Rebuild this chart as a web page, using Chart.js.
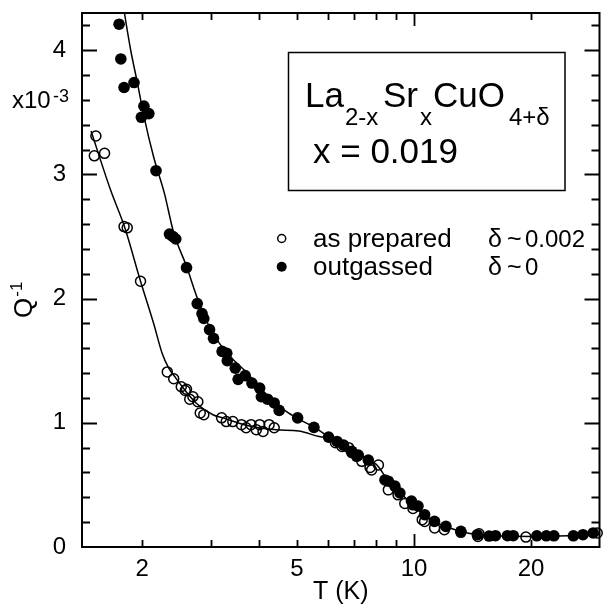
<!DOCTYPE html>
<html>
<head>
<meta charset="utf-8">
<script src="https://cdn.jsdelivr.net/npm/chart.js@4.4.1/dist/chart.umd.min.js"></script>
<style>
  body { margin: 0; background: #fff; }
  canvas { display: block; }
</style>
</head>
<body>
<canvas id="qChart" width="606" height="607"></canvas>
<script>
// values: T in K, Q^-1 in units of 1e-3

// outgassed (filled circles)
const outgassedT = [1.744, 1.762, 1.796, 1.905, 1.99, 2.02, 2.08, 2.17, 2.35, 2.40, 2.44, 2.60,
  2.77, 2.85, 2.88, 2.98, 3.05, 3.21, 3.30, 3.31, 3.47, 3.53, 3.68, 3.83, 4.01, 4.05, 4.20, 4.37,
  4.50, 5.02, 5.53, 6.03, 6.34, 6.59, 6.92, 7.12, 7.19, 7.63, 8.42, 8.59, 8.93, 9.20, 9.85, 9.94,
  10.24, 10.65, 11.29, 12.08, 13.20, 14.55, 15.6, 16.2, 17.4, 18.0, 20.7, 21.9, 22.9, 25.7, 27.2, 28.9];
const outgassedQ = [4.21, 3.93, 3.70, 3.74, 3.46, 3.55, 3.49, 3.03, 2.52, 2.50, 2.48, 2.25,
  1.96, 1.88, 1.84, 1.75, 1.68, 1.575, 1.56, 1.50, 1.44, 1.35, 1.38, 1.32, 1.28, 1.21, 1.19, 1.16,
  1.10, 1.04, 0.963, 0.885, 0.85, 0.82, 0.77, 0.73, 0.74, 0.70, 0.54, 0.53, 0.49, 0.435, 0.37, 0.34,
  0.33, 0.26, 0.206, 0.166, 0.126, 0.099, 0.088, 0.091, 0.091, 0.091, 0.09, 0.09, 0.09, 0.09, 0.099, 0.113];

// as prepared (open circles)
const preparedT = [1.506, 1.52, 1.60, 1.796, 1.83, 1.98, 2.32, 2.41, 2.52, 2.58, 2.60, 2.65, 2.70,
  2.78, 2.82, 2.88, 3.20, 3.29, 3.42, 3.60, 3.70, 3.81, 3.93, 4.01, 4.09, 4.24, 4.37, 6.28, 6.53,
  6.79, 6.92, 7.34, 7.71, 7.78, 8.1, 8.59, 9.1, 9.47, 9.94, 10.5, 10.65, 11.3, 11.97, 13.2, 14.6,
  14.7, 19.4, 29.6];
const preparedQ = [3.15, 3.31, 3.17, 2.58, 2.57, 2.14, 1.41, 1.355, 1.29, 1.26, 1.27, 1.19, 1.21,
  1.17, 1.08, 1.065, 1.04, 1.01, 1.01, 0.985, 0.96, 0.985, 0.945, 0.985, 0.93, 0.985, 0.96, 0.84, 0.81,
  0.80, 0.76, 0.69, 0.64, 0.62, 0.66, 0.46, 0.42, 0.35, 0.31, 0.22, 0.206, 0.153, 0.139, 0.118, 0.085,
  0.107, 0.08, 0.113];

// guide-to-the-eye curves
const outgassedFitT = [1.76, 1.80, 1.868, 1.943, 2.02, 2.14, 2.28, 2.41, 2.60, 2.76, 2.95, 3.16, 3.40,
  3.70, 4.0, 4.33, 4.7, 5.06, 5.6, 6.05, 6.5, 6.9, 7.6, 8.0, 8.6, 9.2, 9.9, 10.6, 11.3, 12.1, 13.2,
  14.6, 16, 20, 25, 30];
const outgassedFitQ = [4.5, 4.30, 4.0, 3.74, 3.47, 3.14, 2.85, 2.53, 2.26, 2.02, 1.80, 1.64, 1.52,
  1.41, 1.29, 1.18, 1.09, 1.03, 0.955, 0.885, 0.83, 0.775, 0.70, 0.665, 0.53, 0.44, 0.34, 0.26, 0.205,
  0.165, 0.125, 0.10, 0.09, 0.085, 0.09, 0.10];
const preparedFitT = [1.477, 1.66, 1.80, 1.98, 2.14, 2.25, 2.34, 2.44, 2.55, 2.75, 3.04, 3.23, 3.7,
  4.42, 5.05, 5.7, 6.05];
const preparedFitQ = [3.35, 2.87, 2.58, 2.14, 1.80, 1.56, 1.44, 1.36, 1.28, 1.16, 1.065, 1.04, 0.98,
  0.944, 0.935, 0.89, 0.88];

// axes
const xTickLabels = [2, 5, 10, 20];
const yTickLabels = [0, 1, 2, 3, 4];
const xMinorTicks = [2, 3, 4, 5, 6, 7, 8, 9, 20];
const xMajorTicks = [10];
const yMinorTicks = [0.2, 0.4, 0.6, 0.8, 1.2, 1.4, 1.6, 1.8, 2.2, 2.4, 2.6, 2.8, 3.2, 3.4, 3.6, 3.8, 4.2];
const yMajorTicks = [1, 2, 3, 4];

const FONT = "'Liberation Sans', Arial, sans-serif";
Chart.defaults.font.family = FONT;
Chart.defaults.color = '#000';

const toPoints = (xs, ys) => xs.map((x, i) => ({ x: x, y: ys[i] }));

// frame, inward ticks, and the text annotations
const overlay = {
  id: 'overlay',
  afterDraw(chart) {
    const { ctx, chartArea: a, scales: { x, y } } = chart;
    ctx.save();
    ctx.strokeStyle = '#000';
    ctx.fillStyle = '#000';

    ctx.lineWidth = 2;
    ctx.strokeRect(a.left, a.top, a.right - a.left, a.bottom - a.top);

    ctx.lineWidth = 1.8;
    ctx.beginPath();
    const xt = (v, len) => {
      const px = Math.round(x.getPixelForValue(v)) + 0.5;
      ctx.moveTo(px, a.bottom); ctx.lineTo(px, a.bottom - len);
      ctx.moveTo(px, a.top); ctx.lineTo(px, a.top + len);
    };
    const yt = (v, len) => {
      const py = Math.round(y.getPixelForValue(v)) + 0.5;
      ctx.moveTo(a.left, py); ctx.lineTo(a.left + len, py);
      ctx.moveTo(a.right, py); ctx.lineTo(a.right - len, py);
    };
    xMinorTicks.forEach(v => xt(v, 7));
    xMajorTicks.forEach(v => xt(v, 13));
    yMinorTicks.forEach(v => yt(v, 8));
    yMajorTicks.forEach(v => yt(v, 15));
    ctx.stroke();

    ctx.textBaseline = 'alphabetic';
    ctx.textAlign = 'left';

    // x10^-3 multiplier
    ctx.font = '24px ' + FONT;
    ctx.fillText('x10', 12, 108);
    ctx.font = '18px ' + FONT;
    ctx.fillText('-3', 53, 102);

    // Q^-1 axis title
    ctx.save();
    ctx.translate(32, 318);
    ctx.rotate(-Math.PI / 2);
    ctx.font = '26px ' + FONT;
    ctx.fillText('Q', 0, 0);
    const qw = ctx.measureText('Q').width;
    ctx.font = '17px ' + FONT;
    ctx.fillText('-1', qw + 1, -10);
    ctx.restore();

    // composition box
    ctx.lineWidth = 1.5;
    ctx.strokeRect(288.5, 52.5, 276.5, 138);
    const big = '35px ' + FONT;
    const small = '24px ' + FONT;
    ctx.font = big;   ctx.fillText('La', 305, 107);
    ctx.font = small; ctx.fillText('2-x', 345, 125);
    ctx.font = big;   ctx.fillText('Sr', 383, 107);
    ctx.font = small; ctx.fillText('x', 420, 125);
    ctx.font = big;   ctx.fillText('CuO', 433, 107);
    ctx.font = small; ctx.fillText('4+\u03b4', 509, 125);
    ctx.font = big;   ctx.fillText('x = 0.019', 313, 163);

    // legend
    ctx.lineWidth = 1.5;
    ctx.beginPath();
    ctx.arc(281.7, 238.5, 4, 0, Math.PI * 2);
    ctx.stroke();
    ctx.beginPath();
    ctx.arc(281.7, 266.7, 5, 0, Math.PI * 2);
    ctx.fill();
    ctx.font = '26px ' + FONT;
    ctx.fillText('as prepared', 313, 247);
    ctx.fillText('outgassed', 313, 275);
    ctx.font = '25px ' + FONT;
    ctx.fillText('\u03b4', 488, 247);
    ctx.fillText('~', 507, 247);
    ctx.fillText('\u03b4', 488, 275);
    ctx.fillText('~', 507, 275);
    ctx.font = '24px ' + FONT;
    ctx.fillText('0.002', 525, 247);
    ctx.fillText('0', 525, 275);

    ctx.restore();
  }
};

const ctx = document.getElementById('qChart').getContext('2d');
const qChart = new Chart(ctx, {
  type: 'scatter',
  data: {
    datasets: [
      {
        label: 'outgassed',
        data: toPoints(outgassedT, outgassedQ),
        pointRadius: 5.8,
        pointBackgroundColor: '#000',
        pointBorderWidth: 0,
        showLine: false,
        clip: false
      },
      {
        label: 'as prepared',
        data: toPoints(preparedT, preparedQ),
        pointRadius: 5,
        pointBackgroundColor: 'rgba(0,0,0,0)',
        pointBorderColor: '#000',
        pointBorderWidth: 1.5,
        showLine: false,
        clip: false
      },
      {
        label: 'outgassed fit',
        data: toPoints(outgassedFitT, outgassedFitQ),
        showLine: true,
        pointRadius: 0,
        borderColor: '#000',
        borderWidth: 1.5,
        cubicInterpolationMode: 'monotone'
      },
      {
        label: 'as prepared fit',
        data: toPoints(preparedFitT, preparedFitQ),
        showLine: true,
        pointRadius: 0,
        borderColor: '#000',
        borderWidth: 1.5,
        cubicInterpolationMode: 'monotone'
      }
    ]
  },
  options: {
    responsive: false,
    animation: false,
    devicePixelRatio: 1,
    layout: { padding: { left: 0, top: 13, right: 3, bottom: 0 } },
    plugins: { legend: { display: false }, tooltip: { enabled: false } },
    scales: {
      x: {
        type: 'logarithmic',
        min: 1.4,
        max: 30,
        grid: { display: false, drawTicks: false },
        border: { display: false },
        afterBuildTicks: s => { s.ticks = xTickLabels.map(v => ({ value: v })); },
        afterFit: s => { s.height = 60; s.paddingLeft = 0; s.paddingRight = 0; },
        ticks: {
          font: { size: 24 },
          padding: 8,
          autoSkip: false,
          maxRotation: 0,
          callback: v => String(v)
        },
        title: {
          display: true,
          text: 'T (K)',
          font: { size: 25 },
          padding: { top: 0, bottom: 0 }
        }
      },
      y: {
        min: 0,
        max: 4.3,
        grid: { display: false, drawTicks: false },
        border: { display: false },
        afterBuildTicks: s => { s.ticks = yTickLabels.map(v => ({ value: v })); },
        afterFit: s => { s.width = 82; s.paddingTop = 0; s.paddingBottom = 0; },
        ticks: { font: { size: 24 }, padding: 16 }
      }
    }
  },
  plugins: [overlay]
});
</script>
</body>
</html>
